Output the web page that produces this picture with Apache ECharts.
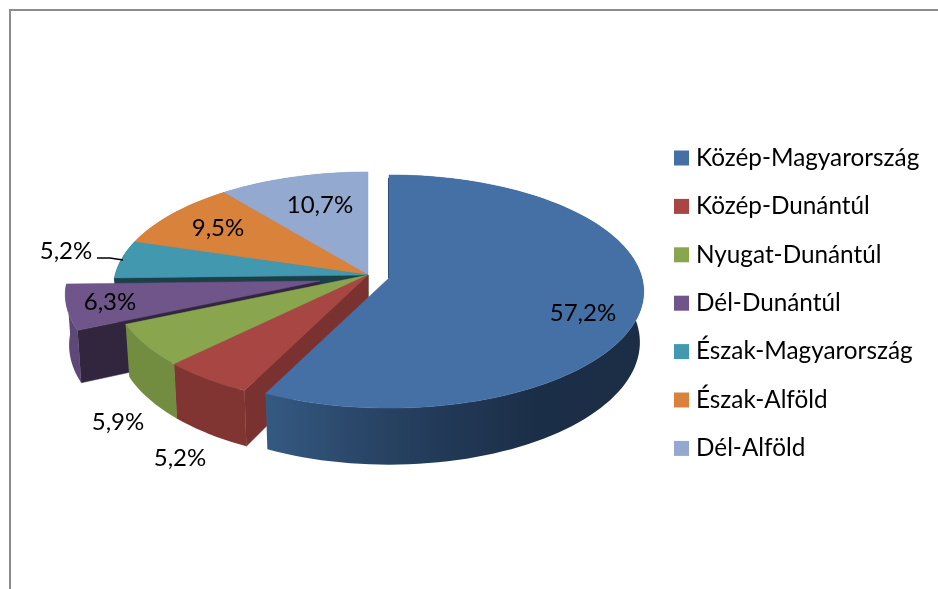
<!DOCTYPE html>
<html><head><meta charset="utf-8">
<style>html,body{margin:0;padding:0;background:#fff}#c{width:938px;height:589px}</style>
<script src="https://cdn.jsdelivr.net/npm/echarts@6/dist/echarts.min.js"></script>
</head><body><div id="c"></div>
<script>
// ---- data ----
const categories = ['Közép-Magyarország','Közép-Dunántúl','Nyugat-Dunántúl','Dél-Dunántúl','Észak-Magyarország','Észak-Alföld','Dél-Alföld'];
const shares = [57.2,5.2,5.9,6.3,5.2,9.5,10.7];
const shareLabels = ['57,2%','5,2%','5,9%','6,3%','5,2%','9,5%','10,7%'];
// ---- styles ----
const topColors  = ['#4470a6','#a84644','#89a54e','#6f5589','#4198af','#d9823c','#93a9cf'];
const wallColors = ['#2a4668','#803533','#728c40','#5d4878','#1c3f4a','#a8652c','#6f81a0'];
const cutColors  = ['#1f3a5c','#7a3230','#5f7a36','#32263f','#1c3f4a','#8a5020','#5f6f8c'];
// ---- layout ----
const apexes = [[389,278],[368,275],[368,275],[320,281],[368,275],[368,275],[368,275]];
const labelAt = [[583,313],[180,458],[118,422],[110,302],[66,251],[218,228],[320,205]];
const paintZ = [7,6,5,4,3,2,1];
const RX=253, RY=115, PERSP=0.116, DEPTH=50, SHRINK=0.985;

function project(apex, deg, r){
  const a=deg*Math.PI/180, s=Math.sin(a)*r, t=-Math.cos(a)*r, d=1-PERSP*t;
  return {x:apex[0]+s*RX/d, y:apex[1]+t*RY/d, dep:DEPTH/d};
}
function lower(apex,p){ return [apex[0]+(p.x-apex[0])*SHRINK, p.y+p.dep]; }
function arc(apex,a0,a1){
  const out=[], n=Math.max(2,Math.ceil((a1-a0)/2));
  for(let i=0;i<=n;i++) out.push(project(apex,a0+(a1-a0)*i/n,1));
  return out;
}
const starts=[]; shares.reduce((acc,v,i)=>{starts[i]=acc;return acc+v;},0);
const total=shares.reduce((a,b)=>a+b,0);

function sliceRender(i){
  return function(){
    const apex=apexes[i], a0=starts[i]/total*360, a1=(starts[i]+shares[i])/total*360;
    const rim=arc(apex,a0,a1);
    const top=[apex].concat(rim.map(p=>[p.x,p.y]));
    const apexLow=[apex[0],apex[1]+DEPTH];
    const children=[];
    const poly=(pts,fill,z2)=>children.push({type:'polygon',shape:{points:pts},style:{fill:fill,stroke:fill,lineWidth:0.5},z2:z2});
    // cut faces that turn toward the viewer
    const pA=rim[0], pB=rim[rim.length-1];
    if(a0>=180) poly([apex,[pA.x,pA.y],lower(apex,pA),apexLow],cutColors[i],1);
    if(a1<=180) poly([apex,[pB.x,pB.y],lower(apex,pB),apexLow],cutColors[i],1);
    // outer wall
    const wall=rim.map(p=>[p.x,p.y]).concat(rim.slice().reverse().map(p=>lower(apex,p)));
    let wallFill=wallColors[i];
    if(i===0){
      const xs=wall.map(p=>p[0]), x1=Math.max(...xs);
      wallFill={type:'linear',x:266,y:0,x2:x1,y2:0,global:true,colorStops:[
        {offset:0,color:'#345a82'},{offset:0.25,color:'#2a4668'},{offset:0.5,color:'#213855'},{offset:0.72,color:'#1b2e47'},{offset:1,color:'#1b2e46'}]};
    }
    children.push({type:'polygon',shape:{points:wall},style:{fill:wallFill},z2:2});
    // top
    poly(top,topColors[i],3);
    // thin dark rim on the flat rear cut of the big slice
    if(a0===0) children.push({type:'line',shape:{x1:apex[0]-0.5,y1:apex[1],x2:pA.x-0.5,y2:pA.y+3},style:{stroke:'#2f4f78',lineWidth:1},z2:4});
    return {type:'group',children:children};
  };
}

const series=categories.map((name,i)=>({
  type:'custom',name:name,coordinateSystem:'none',z:paintZ[i],
  itemStyle:{color:topColors[i]},
  data:[shares[i]],silent:true,animation:false,
  renderItem:sliceRender(i)
}));
const labelEls=shareLabels.map((t,i)=>({type:'text',x:labelAt[i][0],y:labelAt[i][1],z:20,
  style:{text:t,font:'24px Lato, Carlito, sans-serif',fill:'#000',align:'center',verticalAlign:'middle'}}));

const chart=echarts.init(document.getElementById('c'),null,{renderer:'canvas'});
chart.setOption({
  animation:false,
  backgroundColor:'#fff',
  legend:{orient:'vertical',left:669,top:141,itemWidth:15,itemHeight:15,itemGap:24.4,icon:'rect',
    selectedMode:false,
    data:categories,
    textStyle:{fontFamily:'Lato, Carlito, sans-serif',fontSize:24.3,color:'#000',height:20,lineHeight:20,padding:[0,0,0,2]}},
  graphic:{elements:[
    {type:'polyline',z:30,shape:{points:[[10,589],[10,10],[938,10]]},style:{stroke:'#8c8c8c',lineWidth:2,fill:null}},
    {type:'polyline',z:30,shape:{points:[[97,258],[110,258],[123,260]]},style:{stroke:'#000',lineWidth:1.5,fill:null}}
  ].concat(labelEls)},
  series:series
});
</script></body></html>
